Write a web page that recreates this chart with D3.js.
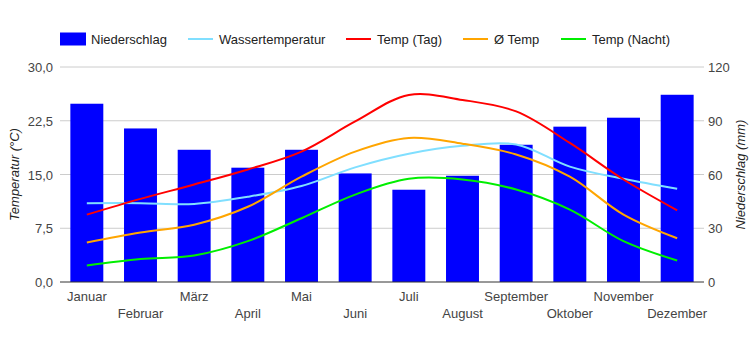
<!DOCTYPE html>
<meta charset="utf-8">
<head>
	<title>Klimadiagramm</title>
</head>

<style>

body{
	margin: 0;
	background-color: #fff;
}

svg{
	font-family: Arial, "Liberation Sans", sans-serif;
	font-size: 13px;
}

.grid line{
	stroke: #ccc;
}

</style>

<body>

<svg width="750" height="350"></svg>

<script src="https://cdnjs.cloudflare.com/ajax/libs/d3/7.8.5/d3.min.js"></script>
<script>

// Daten
var months = ['Januar', 'Februar', 'März', 'April', 'Mai', 'Juni', 'Juli', 'August', 'September', 'Oktober', 'November', 'Dezember'];
var niederschlag = [99.5, 85.7, 73.8, 63.8, 73.8, 60.6, 51.5, 59.3, 76.6, 86.7, 91.7, 104.5];
var wassertemp = [11.0, 11.0, 10.9, 11.9, 13.4, 16.0, 17.9, 19.0, 19.2, 16.1, 14.4, 13.0];
var tempTag = [9.4, 11.6, 13.6, 15.7, 18.2, 22.4, 26.1, 25.4, 23.8, 19.4, 14.3, 10.0];
var tempAvg = [5.5, 6.9, 8.0, 10.5, 14.7, 18.2, 20.1, 19.3, 17.8, 14.7, 9.4, 6.1];
var tempNacht = [2.3, 3.2, 3.7, 5.7, 8.9, 12.2, 14.4, 14.3, 12.9, 10.1, 5.7, 3.0];
var tempTicks = [0, 7.5, 15, 22.5, 30];
var mmTicks = [0, 30, 60, 90, 120];

var series = [
	{name: 'Wassertemperatur', values: wassertemp, color: '#80dfff'},
	{name: 'Temp (Tag)', values: tempTag, color: '#ff0000'},
	{name: 'Ø Temp', values: tempAvg, color: '#ffa500'},
	{name: 'Temp (Nacht)', values: tempNacht, color: '#00ee00'}
];

var pLeft = 60, pRight = 704, pTop = 67, pBottom = 282;
var svg = d3.select('svg');

var x = d3.scaleBand()
	.domain(months)
	.range([pLeft, pRight])
	.paddingInner(0.386)
	.paddingOuter(0.193);

var yT = d3.scaleLinear().domain([0, 30]).range([pBottom, pTop]);
var yN = d3.scaleLinear().domain([0, 120]).range([pBottom, pTop]);

var fmt = function(d){ return d3.format('.1f')(d).replace('.', ','); };

// Gitter
svg.append('g')
	.attr('class', 'grid')
	.selectAll('line')
	.data(tempTicks.slice(1))
	.enter()
	.append('line')
	.attr('x1', pLeft)
	.attr('x2', pRight)
	.attr('y1', function(d){ return yT(d); })
	.attr('y2', function(d){ return yT(d); });

// Balken
svg.append('g')
	.selectAll('rect')
	.data(niederschlag)
	.enter()
	.append('rect')
	.attr('x', function(d, i){ return x(months[i]); })
	.attr('width', x.bandwidth())
	.attr('y', function(d){ return yN(d); })
	.attr('height', function(d){ return pBottom - yN(d); })
	.style('fill', '#0000ff');

// Linien
var line = d3.line()
	.x(function(d, i){ return x(months[i]) + x.bandwidth() / 2; })
	.y(function(d){ return yT(d); })
	.curve(d3.curveCatmullRom.alpha(0.5));

svg.append('g')
	.selectAll('path')
	.data(series)
	.enter()
	.append('path')
	.attr('d', function(d){ return line(d.values); })
	.style('fill', 'none')
	.style('stroke', function(d){ return d.color; })
	.style('stroke-width', 2);

// Grundlinie
svg.append('line')
	.attr('x1', pLeft)
	.attr('x2', pRight)
	.attr('y1', pBottom)
	.attr('y2', pBottom)
	.style('stroke', '#333');

// Achsen
var axisL = svg.append('g')
	.attr('transform', 'translate(' + (pLeft - 7) + ',0)')
	.call(d3.axisLeft(yT).tickValues(tempTicks).tickFormat(fmt).tickSize(0).tickPadding(0));
var axisR = svg.append('g')
	.attr('transform', 'translate(' + (pRight + 4) + ',0)')
	.call(d3.axisRight(yN).tickValues(mmTicks).tickSize(0).tickPadding(0));
var axisB = svg.append('g')
	.attr('transform', 'translate(0,' + pBottom + ')')
	.call(d3.axisBottom(x).tickSize(0).tickPadding(0));

[axisL, axisR, axisB].forEach(function(a){
	a.select('.domain').remove();
	a.selectAll('text')
		.style('font-family', 'Arial, "Liberation Sans", sans-serif')
		.style('font-size', '13px')
		.style('fill', '#444');
});
axisL.selectAll('text').attr('dy', '0.35em');
axisR.selectAll('text').attr('dy', '0.35em');
axisB.selectAll('text')
	.attr('y', function(d, i){ return i % 2 === 0 ? 19 : 36; })
	.attr('dy', 0);

// Achsentitel
svg.append('text')
	.attr('transform', 'translate(19,' + ((pTop + pBottom) / 2) + ') rotate(-90)')
	.attr('text-anchor', 'middle')
	.style('font-style', 'italic')
	.style('fill', '#222')
	.text('Temperatur (°C)');

svg.append('text')
	.attr('transform', 'translate(745,' + ((pTop + pBottom) / 2) + ') rotate(-90)')
	.attr('text-anchor', 'middle')
	.style('font-style', 'italic')
	.style('fill', '#222')
	.text('Niederschlag (mm)');

// Legende
var legend = [{name: 'Niederschlag', color: '#0000ff', bar: true}].concat(series);
var legendX = [60, 188, 346, 463, 561];

var lg = svg.append('g')
	.selectAll('g')
	.data(legend)
	.enter()
	.append('g')
	.attr('transform', function(d, i){ return 'translate(' + legendX[i] + ',39)'; });

lg.filter(function(d){ return d.bar; })
	.append('rect')
	.attr('x', 0)
	.attr('y', -6.5)
	.attr('width', 26)
	.attr('height', 13)
	.style('fill', function(d){ return d.color; });

lg.filter(function(d){ return !d.bar; })
	.append('line')
	.attr('x1', 0)
	.attr('x2', 25)
	.style('stroke', function(d){ return d.color; })
	.style('stroke-width', 2);

lg.append('text')
	.attr('x', 31)
	.attr('dy', '0.35em')
	.style('fill', '#222')
	.text(function(d){ return d.name; });

</script>

</body>
</html>
